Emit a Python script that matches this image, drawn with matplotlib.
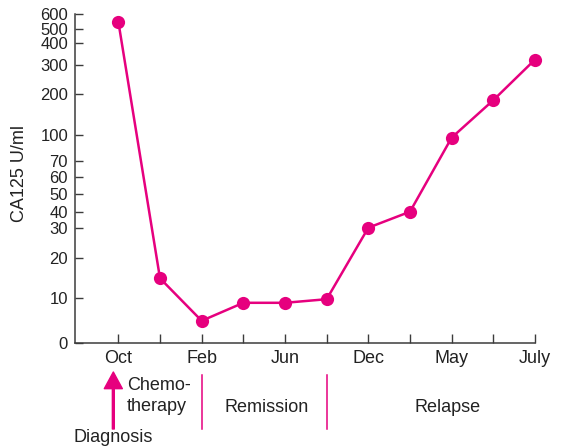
import numpy as np
import matplotlib
matplotlib.use("Agg")
import matplotlib.pyplot as plt
from matplotlib.transforms import blended_transform_factory

plt.rcParams['font.family'] = ['Liberation Sans', 'DejaVu Sans']

# CA125 readings, one every two months starting in October
visits = list(range(11))
ca125 = [550, 15, 5, 9, 9, 9.8, 30, 40, 97, 185, 325]
month_ticks = [0, 2, 4, 6, 8, 10]
month_labels = ['Oct', 'Feb', 'Jun', 'Dec', 'May', 'July']

# hand-drawn compressed y axis: tick value -> height on the axis
ytick_vals = [0, 10, 20, 30, 40, 50, 60, 70, 100, 200, 300, 400, 500, 600]
ytick_height = [0, 45, 85, 115.6, 131.6, 149, 166.3, 182, 208.3, 249.3, 278.3, 300, 314.3, 329]

# treatment phases under the time axis
phase_bounds = [2, 5]
phase_names = ['Remission', 'Relapse']
phase_centres = [3.57, 7.9]

pink = '#e6007e'
grey = '#3c3c3c'


def fwd(v):
    return np.interp(v, ytick_vals, ytick_height)


def inv(h):
    return np.interp(h, ytick_height, ytick_vals)


fig = plt.figure(figsize=(5.62, 4.48), dpi=100)
ax = fig.add_axes([75 / 562, 1 - 343.3 / 448, 460 / 562, 329 / 448])

ax.plot(visits, ca125, color=pink, lw=1.8, marker='o', ms=9.5,
        markeredgewidth=0, clip_on=False, zorder=3)

ax.set_yscale('function', functions=(fwd, inv))
ax.set_ylim(0, 600)
ax.set_xlim(-1.04, 10)
ax.set_yticks(ytick_vals)
ax.set_yticklabels([str(v) for v in ytick_vals])
ax.minorticks_off()
ax.set_xticks(visits)
ax.set_xticklabels([month_labels[month_ticks.index(i)] if i in month_ticks else '' for i in visits])

for s in ['top', 'right']:
    ax.spines[s].set_visible(False)
for s in ['left', 'bottom']:
    ax.spines[s].set_color(grey)
    ax.spines[s].set_linewidth(1.1)

ax.tick_params(axis='y', direction='in', length=6, width=1, color=grey,
               labelsize=12, pad=5, labelcolor='#222222')
ax.tick_params(axis='x', direction='in', length=6.5, width=1, color=grey,
               labelsize=13, pad=5, labelcolor='#222222')
ax.set_ylabel('CA125 U/ml', fontsize=13, color='#222222')
ax.yaxis.set_label_coords(-0.102, 0.516)

# annotations below the axis: x in data units, y in figure fraction
tr = blended_transform_factory(ax.transData, fig.transFigure)


def fy(px):
    return 1 - px / 448


ax.annotate('', xy=(-0.12, fy(372)), xytext=(-0.12, fy(429)),
            xycoords=tr, textcoords=tr, annotation_clip=False,
            arrowprops=dict(color=pink, width=1.4, headwidth=13, headlength=12))
ax.text(0.2, fy(385), 'Chemo-', transform=tr, fontsize=13, color='#222222',
        ha='left', va='center')
ax.text(0.2, fy(406), 'therapy', transform=tr, fontsize=13, color='#222222',
        ha='left', va='center')
ax.text(-1.08, fy(437), 'Diagnosis', transform=tr, fontsize=13, color='#222222',
        ha='left', va='center')

for b in phase_bounds:
    ax.plot([b, b], [fy(375), fy(429)], transform=tr, color=pink, lw=1.1,
            clip_on=False)
for x, name in zip(phase_centres, phase_names):
    ax.text(x, fy(407), name, transform=tr, fontsize=13, color='#222222',
            ha='center', va='center')

fig.savefig('out.png', dpi=100)
